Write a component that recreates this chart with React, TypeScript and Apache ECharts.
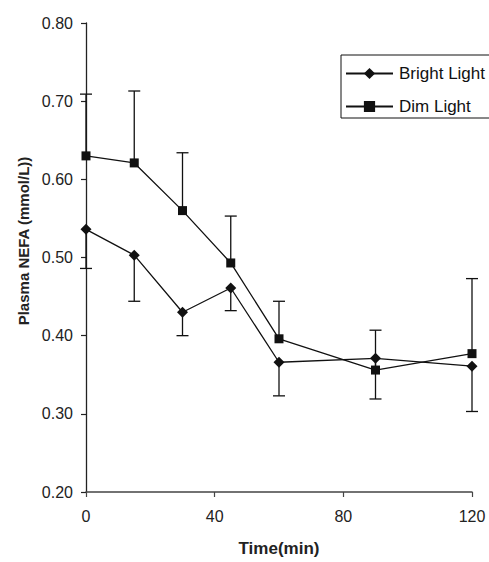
import React, { useEffect, useRef } from "react";
import * as echarts from "echarts";

const times = [0, 15, 30, 45, 60, 90, 120];
const bright = [0.536, 0.503, 0.43, 0.461, 0.366, 0.371, 0.361];
const brightErrLower = [0.05, 0.059, 0.03, 0.029, 0.043, 0.052, 0.058];
const dim = [0.63, 0.621, 0.56, 0.493, 0.396, 0.356, 0.377];
const dimErrUpper = [0.079, 0.092, 0.074, 0.06, 0.048, 0.051, 0.096];
const xTicks = { min: 0, max: 120, interval: 40 };
const yTicks = { min: 0.2, max: 0.8, interval: 0.1 };

const FONT = "'Liberation Sans', Arial, Helvetica, sans-serif";

function errorSeries(vals: number[], errs: number[], dir: number) {
  return {
    type: "custom",
    z: 1,
    silent: true,
    clip: false,
    encode: { x: 0, y: 1 },
    data: times.map((t, i) => [t, vals[i], errs[i]]),
    renderItem: (params: any, api: any) => {
      const x = api.value(0);
      const y = api.value(1);
      const e = api.value(2);
      const p0 = api.coord([x, y]);
      const p1 = api.coord([x, y + dir * e]);
      const style = { stroke: "#111", lineWidth: 1.3 };
      return {
        type: "group",
        children: [
          { type: "line", shape: { x1: p0[0], y1: p0[1], x2: p1[0], y2: p1[1] }, style },
          { type: "line", shape: { x1: p1[0] - 6, y1: p1[1], x2: p1[0] + 6, y2: p1[1] }, style },
        ],
      };
    },
  };
}

export default function App() {
  const ref = useRef<HTMLDivElement>(null);
  useEffect(() => {
    if (!ref.current) return;
    const chart = echarts.init(ref.current, undefined, { renderer: "svg" });
    chart.setOption({
      animation: false,
      backgroundColor: "#fff",
      grid: { left: 86, top: 23, right: 17, bottom: 69 },
      legend: {
        data: ["Bright Light", "Dim Light"],
        orient: "vertical",
        left: 341,
        top: 55,
        borderWidth: 0,
        padding: [10, 10, 10, 4],
        itemWidth: 47,
        itemHeight: 14,
        itemGap: 16,
        textStyle: { fontFamily: FONT, fontSize: 17, color: "#111", padding: [0, 0, 0, 1] },
      },
      graphic: [
        {
          type: "rect",
          z: 10,
          shape: { x: 341, y: 55, width: 170, height: 63 },
          style: { fill: "none", stroke: "#111", lineWidth: 1 },
          silent: true,
        },
        {
          type: "text",
          x: 23,
          y: 241,
          rotation: Math.PI / 2,
          style: {
            text: "Plasma NEFA (mmol/L))",
            font: `bold 15px ${FONT}`,
            fill: "#222",
            textAlign: "center",
            textVerticalAlign: "middle",
          },
        },
      ],
      xAxis: {
        type: "value",
        min: xTicks.min,
        max: xTicks.max,
        interval: xTicks.interval,
        name: "Time(min)",
        nameLocation: "middle",
        nameGap: 48,
        nameTextStyle: { fontFamily: FONT, fontSize: 17, fontWeight: "bold", color: "#222" },
        axisLine: { lineStyle: { color: "#444", width: 1.5 } },
        axisTick: { length: 5, lineStyle: { color: "#444", width: 1.2 } },
        axisLabel: { fontFamily: FONT, fontSize: 16, color: "#222", margin: 16 },
        splitLine: { show: false },
      },
      yAxis: {
        type: "value",
        min: yTicks.min,
        max: yTicks.max,
        interval: yTicks.interval,
        axisLine: { show: true, lineStyle: { color: "#222", width: 1.3 } },
        axisTick: { show: true, length: 5, lineStyle: { color: "#222", width: 1.2 } },
        axisLabel: {
          fontFamily: FONT,
          fontSize: 16,
          color: "#222",
          margin: 13,
          formatter: (v: number) => v.toFixed(2),
        },
        splitLine: { show: false },
      },
      series: [
        errorSeries(bright, brightErrLower, -1),
        errorSeries(dim, dimErrUpper, 1),
        {
          name: "Bright Light",
          type: "line",
          z: 3,
          data: times.map((t, i) => [t, bright[i]]),
          symbol: "diamond",
          symbolSize: 11,
          lineStyle: { color: "#111", width: 1.3 },
          itemStyle: { color: "#111" },
        },
        {
          name: "Dim Light",
          type: "line",
          z: 3,
          data: times.map((t, i) => [t, dim[i]]),
          symbol: "rect",
          symbolSize: 9,
          lineStyle: { color: "#111", width: 1.3 },
          itemStyle: { color: "#111" },
        },
      ],
    });
    return () => chart.dispose();
  }, []);
  return (
    <div
      ref={ref}
      style={{ position: "fixed", left: 0, top: 0, width: 489, height: 562 }}
    />
  );
}
